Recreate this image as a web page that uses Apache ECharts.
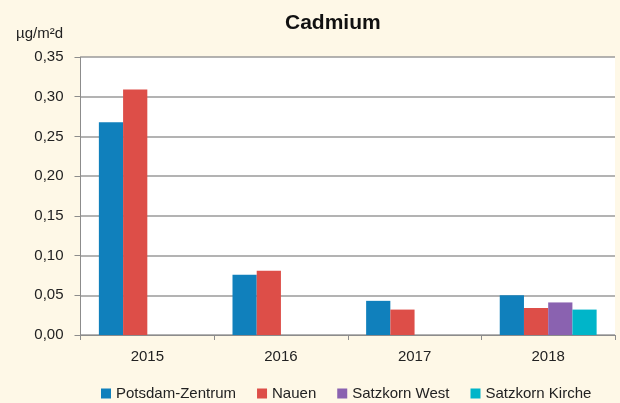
<!DOCTYPE html>
<html>
<head>
<meta charset="utf-8">
<title>Cadmium</title>
<script src="https://cdn.jsdelivr.net/npm/echarts@6/dist/echarts.min.js"></script>
<style>
  html, body { margin: 0; padding: 0; background: #fef8e7; }
  #main { width: 620px; height: 403px; }
</style>
</head>
<body>
<div id="main"></div>
<script>
(function(){
    'use strict';
    var years = ['2015', '2016', '2017', '2018'];
    var potsdam = [0.268, 0.076, 0.043, 0.050];
    var nauen = [0.309, 0.081, 0.032, 0.034];
    var satzkornWest = [null, null, null, 0.041];
    var satzkornKirche = [null, null, null, 0.032];
    var seriesNames = ['Potsdam-Zentrum', 'Nauen', 'Satzkorn West', 'Satzkorn Kirche'];
    var colors = ['#1080bc', '#dd4e48', '#8a62b0', '#00b5c9'];
    var font = 'Liberation Sans, Arial, sans-serif';

    function makeBar(name, data){
        return {
            name: name,
            type: 'bar',
            data: data,
            barGap: '0%',
            barCategoryGap: '27.5%'
        };
    }

    var chart = echarts.init(document.getElementById('main'), null, {renderer: 'canvas'});
    var option = {
        backgroundColor: '#fef8e7',
        color: colors,
        animation: false,
        title: {
            text: 'Cadmium',
            left: 280,
            top: 8,
            textStyle: {fontFamily: font, fontSize: 21, fontWeight: 'bold', color: '#111'}
        },
        graphic: [{
            type: 'text',
            left: 16,
            top: 26,
            style: {text: 'µg/m²d', fontFamily: font, fontSize: 15, fill: '#222'}
        }],
        legend: {
            data: seriesNames,
            left: 96,
            top: 381,
            icon: 'rect',
            itemWidth: 10,
            itemHeight: 10,
            itemGap: 21,
            textStyle: {fontFamily: font, fontSize: 15, color: '#222'}
        },
        grid: {
            left: 80.5,
            right: 5,
            top: 57,
            bottom: 68,
            show: true,
            backgroundColor: '#ffffff',
            borderWidth: 0
        },
        xAxis: {
            type: 'category',
            data: years,
            axisLine: {lineStyle: {color: '#8c8c8c', width: 1}},
            axisTick: {show: true, length: 5, lineStyle: {color: '#8c8c8c'}},
            axisLabel: {fontFamily: font, fontSize: 15, color: '#222', margin: 14}
        },
        yAxis: {
            type: 'value',
            min: 0,
            max: 0.35,
            interval: 0.05,
            axisLine: {show: true, lineStyle: {color: '#8c8c8c', width: 1}},
            axisTick: {show: true, length: 6, lineStyle: {color: '#8c8c8c'}},
            splitLine: {lineStyle: {color: '#9a9a9a', width: 1.5}},
            axisLabel: {
                fontFamily: font,
                fontSize: 15,
                color: '#222',
                margin: 17,
                formatter: function(v){ return v.toFixed(2).replace('.', ','); }
            }
        },
        series: [
            makeBar(seriesNames[0], potsdam),
            makeBar(seriesNames[1], nauen),
            makeBar(seriesNames[2], satzkornWest),
            makeBar(seriesNames[3], satzkornKirche)
        ]
    };
    chart.setOption(option);
})();
</script>
</body>
</html>
